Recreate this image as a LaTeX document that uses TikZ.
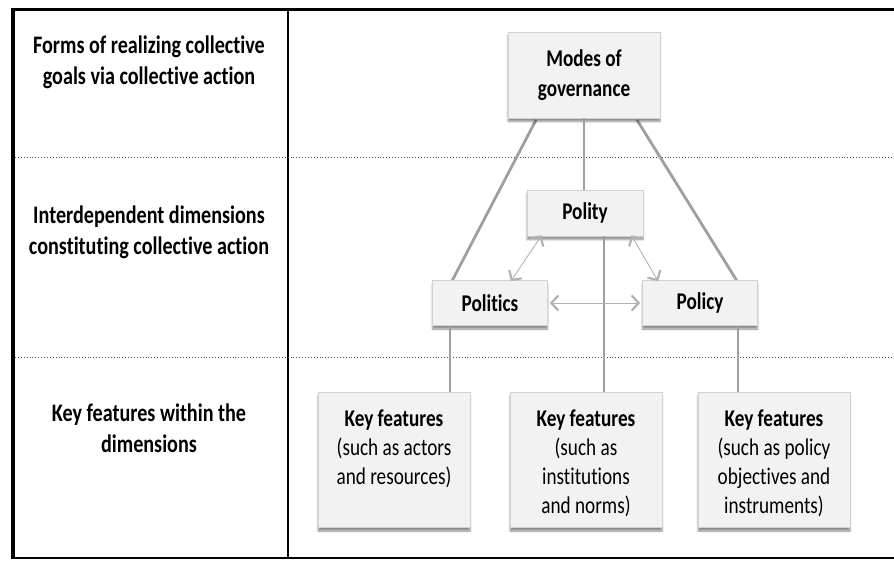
\documentclass[tikz,border=0pt]{standalone}
\usepackage{fontspec}
\setmainfont{Carlito}[Ligatures=NoCommon,FakeStretch=0.8]
\usetikzlibrary{arrows.meta,shadows.blur,calc}
\begin{document}
\begin{tikzpicture}[x=1pt,y=-1pt,
  box/.style={draw=gray!35,fill=gray!10,line width=0.6pt,
    blur shadow={shadow xshift=0pt,shadow yshift=-3.5pt,shadow blur steps=6,shadow opacity=45},
    inner sep=0pt},
  conn/.style={draw=gray!75,line width=2.8pt},
  dual/.style={draw=gray!60,line width=0.9pt,{Straight Barb[length=7pt,width=15pt,line width=2.2pt]}-{Straight Barb[length=7pt,width=15pt,line width=2.2pt]}},
  lbl/.style={align=center,font=\fontsize{25.2}{31}\selectfont\bfseries},
  blbl/.style={align=center,font=\fontsize{24}{30}\selectfont\bfseries},
  txt/.style={align=center,font=\fontsize{24}{29}\selectfont,anchor=north,inner sep=0pt},
  sep/.style={draw=black!70,line width=0.9pt,dotted}
]
\useasboundingbox (0,0) rectangle (894,561);
% frame
\draw[line width=3pt] (12,10) -- (894,10);
\draw[line width=2pt] (12,558) -- (894,558);
\draw[line width=4pt] (13,8.5) -- (13,559);
\draw[line width=2pt] (288,10) -- (288,558);
\draw[sep] (15,157) -- (894,157);
\draw[sep] (15,357) -- (894,357);
% left labels
\node[lbl] (l1) at (149,62) {Forms of realizing collective\\goals via collective action};
\node[lbl] (l2) at (149,232) {Interdependent dimensions\\constituting collective action};
\node[lbl] (l3) at (149,428) {Key features within the\\dimensions};
% connectors (under boxes)
\coordinate (m1) at (536,120);
\coordinate (m2) at (637,120);
\coordinate (pl1) at (452,281);
\coordinate (py1) at (737,281);
\draw[conn] (m1) -- (pl1);
\draw[conn] (m2) -- (py1);
% boxes
\node[box,minimum width=152pt,minimum height=86pt,blbl] (modes) at (584,75) {Modes of\\governance};
\node[box,minimum width=116pt,minimum height=46pt,blbl] (polity) at (585,213) {Polity};
\node[box,minimum width=115pt,minimum height=45pt,blbl] (politics) at (490,303) {Politics};
\node[box,minimum width=115pt,minimum height=45pt,blbl] (policy) at (700,303) {Policy};
\node[box,minimum width=152pt,minimum height=135pt] (k1) at (394,460) {};
\node[box,minimum width=152pt,minimum height=135pt] (k2) at (586,460) {};
\node[box,minimum width=152pt,minimum height=135pt] (k3) at (774,460) {};
\node[txt] (k1t) at ([yshift=-17pt]k1.north) {\bfseries Key features\\(such as actors\\and resources)};
\node[txt] (k2t) at ([yshift=-17pt]k2.north) {\bfseries Key features\\(such as\\institutions\\and norms)};
\node[txt] (k3t) at ([yshift=-17pt]k3.north) {\bfseries Key features\\(such as policy\\objectives and\\instruments)};
% connectors
\draw[conn] (modes.south) -- (modes.south |- polity.north);
\draw[conn] ([xshift=19pt]polity.south) -- ([xshift=19pt]polity.south |- k2.north);
\draw[conn] ([xshift=-40pt]politics.south) -- ([xshift=-40pt]politics.south |- k1.north);
\draw[conn] ([xshift=38pt]policy.south) -- ([xshift=38pt]policy.south |- k3.north);
% dual arrows
\draw[dual] ([xshift=-37pt,yshift=-1pt]politics.north east) -- ([xshift=15pt,yshift=1pt]polity.south west);
\draw[dual] ([xshift=-12pt,yshift=1pt]polity.south east) -- ([xshift=16pt,yshift=-1pt]policy.north west);
\draw[dual] ([xshift=2pt]politics.east) -- ([xshift=-2pt]policy.west);
\end{tikzpicture}
\end{document}
